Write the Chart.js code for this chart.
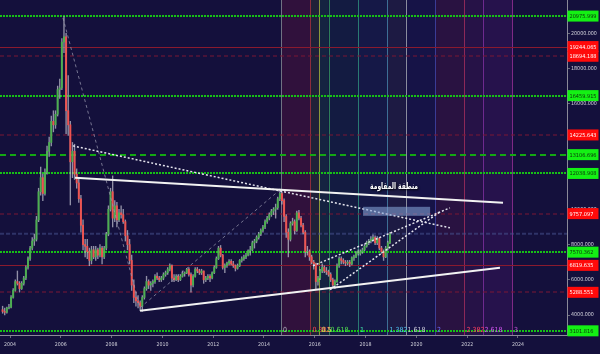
<!DOCTYPE html>
<html>
<head>
<meta charset="utf-8">
<script src="https://cdn.jsdelivr.net/npm/chart.js@4.4.0/dist/chart.umd.min.js"></script>
<style>
  html, body { margin: 0; padding: 0; background: #14103c; }
</style>
</head>
<body>
<canvas id="chart" width="600" height="354"></canvas>
<script>
// monthly candles
var months = [
  '2003-09','2003-10','2003-11','2003-12',
  '2004-01','2004-02','2004-03','2004-04','2004-05','2004-06','2004-07','2004-08','2004-09','2004-10','2004-11','2004-12',
  '2005-01','2005-02','2005-03','2005-04','2005-05','2005-06','2005-07','2005-08','2005-09','2005-10','2005-11','2005-12',
  '2006-01','2006-02','2006-03','2006-04','2006-05','2006-06','2006-07','2006-08','2006-09','2006-10','2006-11','2006-12',
  '2007-01','2007-02','2007-03','2007-04','2007-05','2007-06','2007-07','2007-08','2007-09','2007-10','2007-11','2007-12',
  '2008-01','2008-02','2008-03','2008-04','2008-05','2008-06','2008-07','2008-08','2008-09','2008-10','2008-11','2008-12',
  '2009-01','2009-02','2009-03','2009-04','2009-05','2009-06','2009-07','2009-08','2009-09','2009-10','2009-11','2009-12',
  '2010-01','2010-02','2010-03','2010-04','2010-05','2010-06','2010-07','2010-08','2010-09','2010-10','2010-11','2010-12',
  '2011-01','2011-02','2011-03','2011-04','2011-05','2011-06','2011-07','2011-08','2011-09','2011-10','2011-11','2011-12',
  '2012-01','2012-02','2012-03','2012-04','2012-05','2012-06','2012-07','2012-08','2012-09','2012-10','2012-11','2012-12',
  '2013-01','2013-02','2013-03','2013-04','2013-05','2013-06','2013-07','2013-08','2013-09','2013-10','2013-11','2013-12',
  '2014-01','2014-02','2014-03','2014-04','2014-05','2014-06','2014-07','2014-08','2014-09','2014-10','2014-11','2014-12',
  '2015-01','2015-02','2015-03','2015-04','2015-05','2015-06','2015-07','2015-08','2015-09','2015-10','2015-11','2015-12',
  '2016-01','2016-02','2016-03','2016-04','2016-05','2016-06','2016-07','2016-08','2016-09','2016-10','2016-11','2016-12',
  '2017-01','2017-02','2017-03','2017-04','2017-05','2017-06','2017-07','2017-08','2017-09','2017-10','2017-11','2017-12',
  '2018-01','2018-02','2018-03','2018-04','2018-05','2018-06','2018-07','2018-08','2018-09','2018-10','2018-11','2018-12'
];
var opens = [
  4300,4200,4150,4400,
  4440,5000,5400,5900,5800,5500,5800,6100,6700,7200,7800,8200,
  8300,9400,11000,11800,10900,12100,13300,13800,15000,14800,15400,16800,
  16900,19500,19800,15600,14800,12700,13300,12000,11500,10600,9100,8000,
  7900,7600,7100,7700,7300,7700,7400,7800,7300,7800,8600,10000,
  11000,9500,10200,9400,9800,9700,9300,8500,8000,7100,5700,5000,
  4800,4700,4500,5000,5500,5900,5700,5800,5900,6200,6100,6000,
  6100,6300,6400,6600,6800,6100,6000,6200,6000,6200,6350,6400,
  6600,6300,5700,6200,6600,6500,6400,6500,6000,6100,6200,6100,
  6400,6700,7200,7800,7400,6700,6800,6950,7050,6900,6800,6650,
  6800,7100,7200,7300,7400,7650,7700,8100,8200,8400,8600,8800,
  9000,9300,9500,9700,9900,10000,10100,10600,10900,10500,9600,8700,
  8300,9200,9300,8800,9800,9500,9100,8700,7600,7600,7300,7000,
  6900,5900,6100,6500,6700,6500,6450,6300,6000,5700,5900,6800,
  7200,7100,7000,6950,7000,6900,7250,7300,7500,7500,7600,7700,
  7900,8100,8200,8300,8400,8100,8350,7800,7600,7300,7800,8100
];
var highs = [
  4500,4400,4450,4600,
  5100,5500,6000,6500,5900,5900,6200,6800,7300,7900,8400,8600,
  9600,11200,12400,12000,12300,13600,14100,15300,15600,15600,17000,17400,
  19700,20950,20000,17600,15000,13800,13700,12300,11800,10800,9400,8300,
  8300,7800,7900,7900,7900,7800,8000,7900,7900,8700,10200,11200,
  11900,10500,10400,10000,10200,10000,9400,8800,8300,7400,6000,5300,
  5100,4800,5100,5600,6200,6000,5900,6000,6300,6400,6200,6200,
  6400,6500,6700,6900,6850,6300,6300,6300,6300,6500,6450,6650,
  6700,6400,6300,6700,6700,6600,6600,6500,6200,6300,6300,6450,
  6800,7300,7900,7950,7450,6900,7000,7150,7150,7050,6850,6900,
  7150,7300,7400,7500,7700,7900,8200,8300,8500,8700,8900,9100,
  9400,9600,9800,10000,10100,10300,10700,11150,11000,10600,9700,8900,
  9300,9500,9400,9900,9950,9600,9200,8800,7900,7700,7400,7100,
  6950,6200,6600,6900,6800,6700,6550,6400,6100,6000,6900,7300,
  7300,7200,7100,7100,7100,7300,7400,7600,7700,7700,7800,8000,
  8200,8300,8450,8550,8500,8450,8400,7900,7700,7900,8200,8700
];
var lows = [
  4100,4000,4100,4350,
  4400,4950,5350,5700,5300,5450,5700,6000,6600,7100,7700,7950,
  8200,9300,10800,10500,10800,12000,13000,13600,14400,14600,15300,16300,
  16800,18900,14300,14200,10250,11800,11700,11200,10400,8700,7700,7300,
  7200,6800,6900,7200,7100,7200,7300,6900,7200,7700,8500,9900,
  9000,9300,9000,9300,9500,9200,8200,7700,6900,5400,4700,4500,
  4400,4250,4200,4900,5400,5500,5400,5600,5800,6000,5900,5900,
  6000,6200,6300,6500,5900,5900,5950,5900,5950,6150,6200,6350,
  6200,5300,5600,6150,6400,6300,6300,5800,5900,6000,5900,6050,
  6350,6650,7150,7300,6600,6400,6700,6850,6850,6700,6500,6600,
  6750,7000,7100,7200,7350,7400,7650,7800,8100,8300,8500,8700,
  8900,9200,9400,9600,9700,9500,10000,10500,10300,9300,8400,7300,
  8200,9100,8600,8750,9400,9000,8600,7300,7400,7100,6900,6600,
  5500,5700,6000,6400,6400,6300,6200,5900,5550,5500,5850,6700,
  6900,6900,6800,6850,6750,6850,7100,7250,7400,7400,7500,7650,
  7850,8000,8100,8200,8000,8000,7700,7500,7100,7250,7700,8050
];
var closes = [
  4200,4150,4400,4440,
  5000,5400,5900,5800,5500,5800,6100,6700,7200,7800,8200,8300,
  9400,11000,11800,10900,12100,13300,13800,15000,14800,15400,16800,16900,
  19500,19800,15600,14800,12700,13300,12000,11500,10600,9100,8000,7900,
  7600,7100,7700,7300,7700,7400,7800,7300,7800,8600,10000,11000,
  9500,10200,9400,9800,9700,9300,8500,8000,7100,5700,5000,4800,
  4700,4500,5000,5500,5900,5700,5800,5900,6200,6100,6000,6100,
  6300,6400,6600,6800,6100,6000,6200,6000,6200,6350,6400,6600,
  6300,5700,6200,6600,6500,6400,6500,6000,6100,6200,6100,6400,
  6700,7200,7800,7400,6700,6800,6950,7050,6900,6800,6650,6800,
  7100,7200,7300,7400,7650,7700,8100,8200,8400,8600,8800,9000,
  9300,9500,9700,9900,10000,10100,10600,10900,10500,9600,8700,8300,
  9200,9300,8800,9800,9500,9100,8700,7600,7600,7300,7000,6900,
  5900,6100,6500,6700,6500,6450,6300,6000,5700,5900,6800,7200,
  7100,7000,6950,7000,6900,7250,7300,7500,7500,7600,7700,7900,
  8100,8200,8300,8400,8100,8350,7800,7600,7300,7800,8100,8600
];

var yearTicks = [2004, 2006, 2008, 2010, 2012, 2014, 2016, 2018, 2020, 2022, 2024];
var priceTicks = [4000, 6000, 8000, 10000, 12000, 14000, 16000, 18000, 20000];

// horizontal levels with their price tags
var levelPrices = [20975.999, 19244.065, 18694.188, 16459.915, 14225.643, 13106.696, 12038.908, 9757.097, 7570.362, 6819.635, 5288.551, 3101.816];
var faintLevel = 8612;

// fib time zones
var fibLevels = [0, 0.382, 0.5, 0.618, 1, 1.382, 1.618, 2, 2.382, 2.618, 3];
var fibAnchor = [2014.669, 2017.701];

// drawings: [year, price] points
var upperTrend = [[2006.56, 11790], [2023.41, 10371]];
var lowerTrend = [[2009.12, 4244], [2023.29, 6683]];
var fallingDots = [[2006.48, 13605], [2021.32, 8952]];
var channelTop = [[2015.93, 6796], [2021.32, 10087]];
var channelBottom = [[2016.60, 5435], [2020.93, 9860]];
var waveDash = [[2006.087, 20868], [2009.118, 4413], [2014.63, 11109]];
var zoneBox = [2017.90, 2020.54, 10144, 9633];
var zoneText = 'منطقة المقاومة';
var zoneTextAt = [2019.12, 11280];

var times = months.map(function (m) {
  var p = m.split('-');
  return Number(p[0]) + (Number(p[1]) - 0.5) / 12;
});

var upColor = '#4caf50';
var downColor = '#ef5350';

function pts(list) {
  return list.map(function (p) { return { x: p[0], y: p[1] }; });
}

// styles of the levels (green dotted, green dashed, red solid, red dashed)
var levelKind = ['dot', 'solid', 'rdash', 'dot', 'rdash', 'dash2', 'dot', 'rdash', 'dot', 'solid', 'rdash', 'dot'];
var levelStyle = {
  dot:   { color: '#16c016', width: 2, dash: [2, 1] },
  dash2: { color: '#14a814', width: 2, dash: [6, 4] },
  solid: { color: '#8a1a2e', width: 1, dash: [] },
  rdash: { color: '#7a1634', width: 1.2, dash: [4, 3] }
};
var fibLineColors = ['#6f7282', '#8c2c3c', '#8a9a3c', '#2e7d5a', '#2a7a72', '#3d6f96', '#8a8c9c', '#3a3c96', '#8c2858', '#6e2a8e', '#7e2a86'];
var fibFills = ['rgba(130,20,60,0.25)', 'rgba(90,110,40,0.18)', 'rgba(30,120,90,0.18)', 'rgba(20,110,110,0.12)',
  'rgba(30,80,160,0.12)', 'rgba(120,120,140,0.10)', 'rgba(40,40,160,0.12)', 'rgba(140,30,90,0.18)',
  'rgba(120,30,120,0.18)', 'rgba(110,30,140,0.20)'];
var fibTextColors = ['#b0b3c0', '#ff4050', '#e0e060', '#50e050', '#40f0b0', '#50c0f0', '#c8c8d8', '#6a6aff', '#ff4060', '#d055f0', '#c855e0'];

// pick font sizes so the small texts get the widths seen in the picture
var smallFont = '"DejaVu Sans Condensed", "DejaVu Sans", sans-serif';
var probe = document.createElement('canvas').getContext('2d');
function fitSize(text, width, family, weight) {
  probe.font = (weight || '') + ' 20px ' + family;
  return 20 * width / probe.measureText(text).width;
}
var tickSize = Math.min(6.5, fitSize('20000.000', 26, smallFont));
var yearSize = Math.min(6.5, fitSize('2004', 12, smallFont));
var fibSize = Math.min(7, fitSize('0.618', 18, smallFont));
var tagSize = Math.min(6.5, fitSize('20975.999', 27, smallFont));

var drawings = {
  id: 'drawings',
  beforeDraw: function (chart) {
    var ctx = chart.ctx;
    ctx.save();
    ctx.fillStyle = '#14103c';
    ctx.fillRect(0, 0, chart.width, chart.height);
    ctx.restore();
  },
  beforeDatasetsDraw: function (chart) {
    var ctx = chart.ctx, a = chart.chartArea;
    var xs = chart.scales.x, ys = chart.scales.y;
    var unit = fibAnchor[1] - fibAnchor[0];
    ctx.save();
    // fib zone fills and lines
    fibLevels.forEach(function (lv, i) {
      var x = xs.getPixelForValue(fibAnchor[0] + lv * unit);
      if (i < fibLevels.length - 1) {
        var x2 = xs.getPixelForValue(fibAnchor[0] + fibLevels[i + 1] * unit);
        ctx.fillStyle = fibFills[i];
        ctx.fillRect(x, a.top, x2 - x, a.bottom - a.top);
      }
      ctx.strokeStyle = fibLineColors[i];
      ctx.lineWidth = 1;
      ctx.beginPath();
      ctx.moveTo(Math.round(x) + 0.5, a.top);
      ctx.lineTo(Math.round(x) + 0.5, a.bottom);
      ctx.stroke();
    });
    // faint blue level
    var fy = ys.getPixelForValue(faintLevel);
    ctx.strokeStyle = 'rgba(70,80,140,0.55)';
    ctx.lineWidth = 2;
    ctx.setLineDash([4, 2]);
    ctx.beginPath();
    ctx.moveTo(a.left, fy);
    ctx.lineTo(a.right, fy);
    ctx.stroke();
    // horizontal levels
    levelPrices.forEach(function (p, i) {
      var st = levelStyle[levelKind[i]];
      var y = Math.round(ys.getPixelForValue(p)) + (st.width === 1 ? 0.5 : 0);
      ctx.strokeStyle = st.color;
      ctx.lineWidth = st.width;
      ctx.setLineDash(st.dash);
      ctx.beginPath();
      ctx.moveTo(a.left, y);
      ctx.lineTo(a.right, y);
      ctx.stroke();
    });
    ctx.restore();
  },
  afterDatasetsDraw: function (chart) {
    var ctx = chart.ctx;
    var xs = chart.scales.x, ys = chart.scales.y;
    ctx.save();
    var bx1 = xs.getPixelForValue(zoneBox[0]), bx2 = xs.getPixelForValue(zoneBox[1]);
    var by1 = ys.getPixelForValue(zoneBox[2]), by2 = ys.getPixelForValue(zoneBox[3]);
    ctx.fillStyle = 'rgba(130,160,210,0.6)';
    ctx.fillRect(bx1, by1, bx2 - bx1, by2 - by1);

    // arabic label, squeezed to the width it has in the picture
    ctx.font = 'bold 9px "DejaVu Sans", sans-serif';
    ctx.textAlign = 'center';
    ctx.textBaseline = 'middle';
    ctx.direction = 'rtl';
    var w = ctx.measureText(zoneText).width;
    var sx = Math.min(1, 48 / w);
    ctx.translate(xs.getPixelForValue(zoneTextAt[0]), ys.getPixelForValue(zoneTextAt[1]));
    ctx.scale(sx, 1);
    ctx.shadowColor = 'rgba(0,0,0,0.9)';
    ctx.shadowBlur = 2;
    ctx.shadowOffsetX = 1;
    ctx.shadowOffsetY = 1;
    ctx.fillStyle = '#ffffff';
    ctx.fillText(zoneText, 0, 0);
    ctx.restore();
  },
  afterDraw: function (chart) {
    var ctx = chart.ctx, a = chart.chartArea;
    var xs = chart.scales.x, ys = chart.scales.y;
    var unit = fibAnchor[1] - fibAnchor[0];
    ctx.save();
    // fib labels
    ctx.font = fibSize.toFixed(2) + 'px ' + smallFont;
    ctx.textAlign = 'left';
    ctx.textBaseline = 'middle';
    fibLevels.forEach(function (lv, i) {
      var x = xs.getPixelForValue(fibAnchor[0] + lv * unit);
      ctx.fillStyle = fibTextColors[i];
      ctx.fillText(String(lv), x + 2, a.bottom - 5);
    });
    // price tags on the axis
    ctx.font = tagSize.toFixed(2) + 'px ' + smallFont;
    levelPrices.forEach(function (p, i) {
      var y = ys.getPixelForValue(p);
      var green = levelKind[i] === 'dot' || levelKind[i] === 'dash2';
      ctx.fillStyle = green ? '#14f014' : '#ff0a0a';
      ctx.fillRect(a.right + 0.5, y - 5.5, 31, 11);
      ctx.fillStyle = green ? '#0b300b' : '#ffffff';
      ctx.fillText(p.toFixed(3), a.right + 2.5, y + 0.5);
    });
    ctx.restore();
  }
};

var ctx = document.getElementById('chart');

new Chart(ctx, {
  type: 'bar',
  data: {
    datasets: [
      {
        label: 'wick',
        data: times.map(function (t, i) { return { x: t, y: [lows[i], highs[i]] }; }),
        backgroundColor: 'rgba(200,200,212,0.7)',
        barThickness: 0.7,
        grouped: false,
        order: 3
      },
      {
        label: 'body',
        data: times.map(function (t, i) { return { x: t, y: [opens[i], closes[i]] }; }),
        backgroundColor: function (c) {
          return closes[c.dataIndex] >= opens[c.dataIndex] ? upColor : downColor;
        },
        barThickness: 1.3,
        grouped: false,
        order: 2
      },
      { type: 'line', data: pts(upperTrend), borderColor: '#f2f2f2', borderWidth: 2, pointRadius: 0, order: 1 },
      { type: 'line', data: pts(lowerTrend), borderColor: '#f2f2f2', borderWidth: 2, pointRadius: 0, order: 1 },
      { type: 'line', data: pts(fallingDots), borderColor: '#e4e4ee', borderWidth: 1.5, borderDash: [2, 2], pointRadius: 0, order: 1 },
      { type: 'line', data: pts(channelTop), borderColor: '#e4e4ee', borderWidth: 1.5, borderDash: [2, 2], pointRadius: 0, order: 1 },
      { type: 'line', data: pts(channelBottom), borderColor: '#e4e4ee', borderWidth: 1.5, borderDash: [2, 2], pointRadius: 0, order: 1 },
      { type: 'line', data: pts(waveDash), borderColor: 'rgba(150,150,172,0.75)', borderWidth: 1, borderDash: [3, 3], pointRadius: 0, order: 1 }
    ]
  },
  options: {
    responsive: false,
    animation: false,
    layout: { padding: 0 },
    plugins: {
      legend: { display: false },
      tooltip: { enabled: false }
    },
    scales: {
      x: {
        type: 'linear',
        min: 2003.606,
        max: 2025.93,
        offset: false,
        afterBuildTicks: function (s) {
          s.ticks = yearTicks.map(function (v) { return { value: v }; });
        },
        afterFit: function (s) {
          s.height = 19;
          s.paddingLeft = 0;
          s.paddingRight = 0;
        },
        grid: { drawOnChartArea: false, offset: false, tickLength: 3, color: '#6a6a7c' },
        border: { color: '#8a8a98' },
        ticks: {
          autoSkip: false,
          maxRotation: 0,
          padding: 3,
          color: '#d0d0da',
          font: { family: smallFont, size: yearSize },
          callback: function (v) { return String(v); }
        }
      },
      y: {
        type: 'linear',
        position: 'right',
        min: 2865,
        max: 21889,
        afterBuildTicks: function (s) {
          s.ticks = priceTicks.map(function (v) { return { value: v }; });
        },
        afterFit: function (s) {
          s.width = 33;
          s.paddingTop = 0;
          s.paddingBottom = 0;
        },
        grid: { drawOnChartArea: false, tickLength: 3, color: '#6a6a7c' },
        border: { color: '#8a8a98' },
        ticks: {
          autoSkip: false,
          padding: 1,
          color: '#d0d0da',
          font: { family: smallFont, size: tickSize },
          callback: function (v) { return v.toFixed(3); }
        }
      }
    }
  },
  plugins: [drawings]
});
</script>
</body>
</html>
